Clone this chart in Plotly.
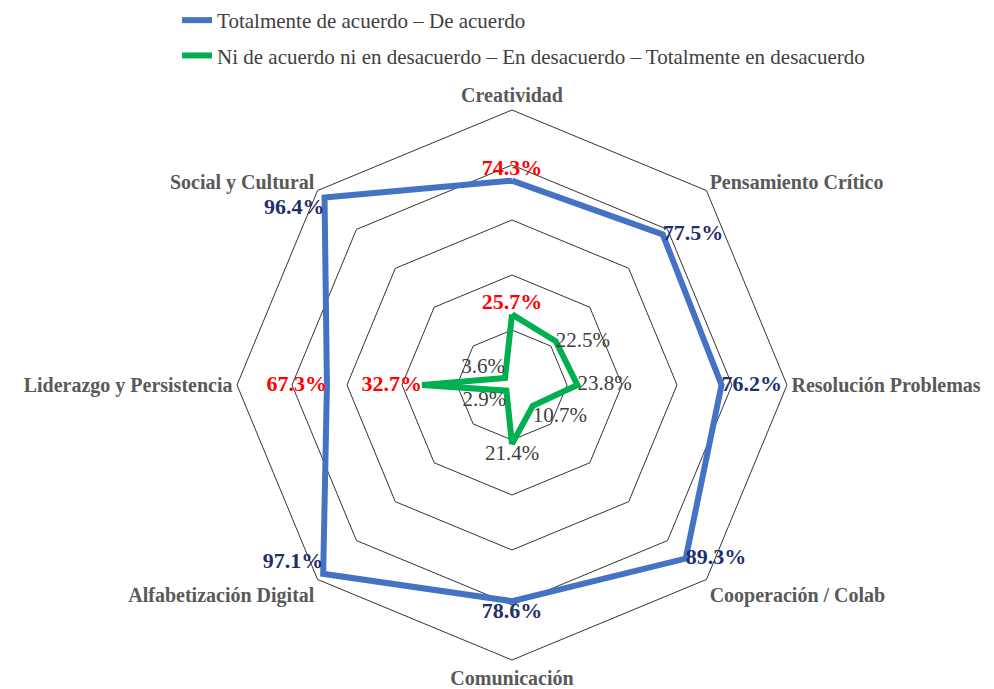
import plotly.graph_objects as go

categories = ["Creatividad", "Pensamiento Crítico", "Resolución Problemas", "Cooperación / Colab",
              "Comunicación", "Alfabetización Digital", "Liderazgo y Persistencia", "Social y Cultural"]
acuerdo = [74.3, 77.5, 76.2, 89.3, 78.6, 97.1, 67.3, 96.4]
desacuerdo = [25.7, 22.5, 23.8, 10.7, 21.4, 2.9, 32.7, 3.6]
highlight = ["Creatividad", "Liderazgo y Persistencia"]

name_a = "Totalmente de acuerdo – De acuerdo"
name_d = "Ni de acuerdo ni en desacuerdo – En desacuerdo – Totalmente en desacuerdo"

pos_a = ["top center", "middle right", "middle right", "middle right",
         "bottom center", "top left", "middle left", "bottom left"]
pos_d = ["top center", "middle right", "middle right", "bottom right",
         "bottom center", "bottom left", "middle left", "top left"]

FONT = "Liberation Serif, Times New Roman, serif"
BLUE = "#4472C4"
GREEN = "#00B050"
NAVY = "#1F3070"
RED = "#FF0000"

fig = go.Figure()

def closed(v):
    return list(v) + [v[0]]

fig.add_trace(go.Scatterpolar(r=closed(acuerdo), theta=closed(categories), mode="lines",
                              line=dict(color=BLUE, width=6), name=name_a, legendgroup="a"))
fig.add_trace(go.Scatterpolar(r=closed(desacuerdo), theta=closed(categories), mode="lines",
                              line=dict(color=GREEN, width=6), name=name_d, legendgroup="d"))

def text_trace(vals, pos, hl, color, weight, size):
    txt = [f"{v}%" if ((c in highlight) == hl) else "" for v, c in zip(vals, categories)]
    return go.Scatterpolar(r=vals, theta=categories, mode="text", text=txt, textposition=pos,
                           textfont=dict(family=FONT, size=size, color=color, weight=weight),
                           showlegend=False, hoverinfo="skip")

fig.add_trace(text_trace(acuerdo, pos_a, False, NAVY, "bold", 22))
fig.add_trace(text_trace(acuerdo, pos_a, True, RED, "bold", 22))
fig.add_trace(text_trace(desacuerdo, pos_d, False, "#404040", "normal", 21))
fig.add_trace(text_trace(desacuerdo, pos_d, True, RED, "bold", 22))

fig.update_layout(
    width=994, height=689,
    paper_bgcolor="white", plot_bgcolor="white",
    margin=dict(l=223, r=209, t=102, b=37, autoexpand=False),
    font=dict(family=FONT, size=21, color="#404040"),
    polar=dict(
        bgcolor="white",
        gridshape="linear",
        radialaxis=dict(range=[0, 100], dtick=20, showticklabels=False, ticks="",
                        showline=False, showgrid=True, gridcolor="#333333", gridwidth=1),
        angularaxis=dict(rotation=90, direction="clockwise", showgrid=False, ticks="",
                         showline=True, linecolor="#333333", linewidth=1,
                         tickfont=dict(family=FONT, size=20, color="#595959", weight="bold")),
    ),
    legend=dict(x=-0.096, y=1.2, xanchor="left", yanchor="top", orientation="v",
                traceorder="grouped", tracegroupgap=5, itemwidth=30,
                font=dict(family=FONT, size=21, color="#404040"), bgcolor="rgba(0,0,0,0)"),
)

fig.write_html("out.html")
